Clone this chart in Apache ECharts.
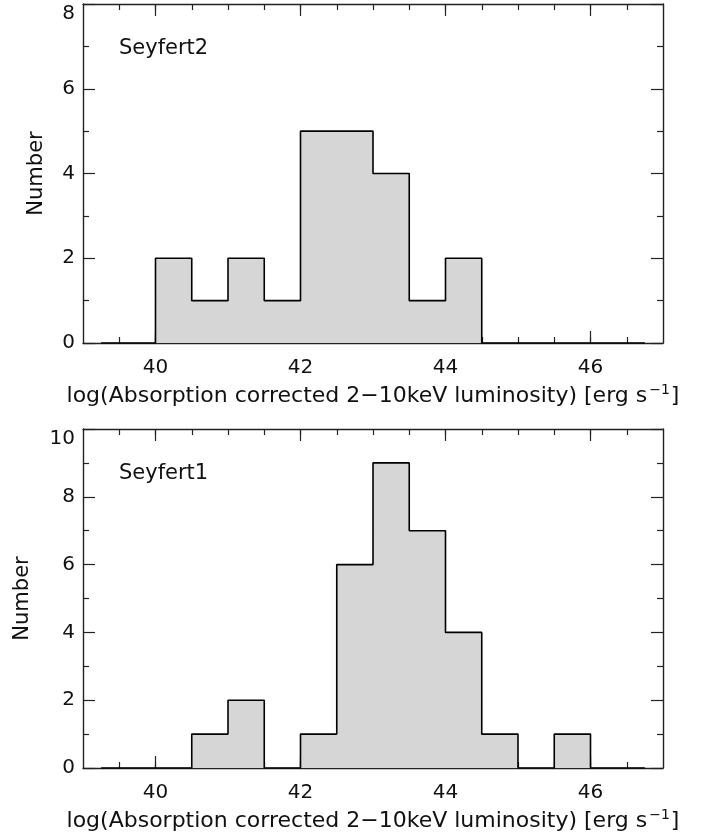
<!DOCTYPE html>
<html>
<head>
<meta charset="utf-8">
<script src="https://cdn.jsdelivr.net/npm/echarts@6/dist/echarts.min.js"></script>
<style>
html,body{margin:0;padding:0;background:#fff;}
#c{width:712px;height:838px;}
</style>
</head>
<body>
<div id="c"></div>
<script>
// Bin centres (log L, bin width 0.5)
const binCenters = [39.25, 39.75, 40.25, 40.75, 41.25, 41.75, 42.25, 42.75, 43.25, 43.75, 44.25, 44.75, 45.25, 45.75, 46.25, 46.75];
// Counts per bin
const seyfert2Counts = [0, 0, 2, 1, 2, 1, 5, 5, 4, 1, 2, 0, 0, 0, 0, 0];
const seyfert1Counts = [0, 0, 0, 1, 2, 0, 1, 6, 9, 7, 4, 1, 0, 1, 0, 0];
// Axis ticks / labels
const xMajorTicks = [40, 42, 44, 46];
const xMinorTicks = [39.5, 40, 40.5, 41, 41.5, 42, 42.5, 43, 43.5, 44, 44.5, 45, 45.5, 46, 46.5];
const xRange = [39, 47];
const yMaxTop = 8, yMaxBottom = 10;
const panelLabels = ['Seyfert2', 'Seyfert1'];
const yTitle = 'Number';

const FONT = 'DejaVu Sans';
const FS = 20;
const INK = '#111';
const AXC = '#222';

const xName = '{a|log(Absorption corrected 2\u221210keV luminosity) [erg s}{s|\u22121}{a|]}';
const xNameRich = {
  a: {fontFamily: FONT, fontSize: 22, color: INK},
  s: {fontFamily: FONT, fontSize: 14, color: INK, padding: [0, 1, 12, 2]}
};

function xAxes(grid, position, major, withLabels) {
  const base = {
    type: 'value', gridIndex: grid, position: position,
    min: xRange[0], max: xRange[1],
    splitLine: {show: false},
    axisLine: {show: major, onZero: false, lineStyle: {color: AXC, width: 1.4}},
    axisTick: {show: true, inside: true,
      customValues: major ? xMajorTicks : xMinorTicks,
      length: major ? 12 : 6, lineStyle: {color: AXC, width: 1.2}},
    axisLabel: {show: !!withLabels, customValues: xMajorTicks, margin: 15,
      fontFamily: FONT, fontSize: FS, color: INK}
  };
  if (withLabels) {
    base.name = xName;
    base.nameLocation = 'middle';
    base.nameGap = 40;
    base.nameTextStyle = {rich: xNameRich};
  }
  return base;
}

function yAxis(grid, position, max, withLabels, nameGap) {
  const ax = {
    type: 'value', gridIndex: grid, position: position,
    min: 0, max: max, interval: 2,
    splitLine: {show: false},
    axisLine: {show: true, onZero: false, lineStyle: {color: AXC, width: 1.4}},
    axisTick: {show: true, inside: true, length: 12, lineStyle: {color: AXC, width: 1.2}},
    minorTick: {show: true, splitNumber: 2, length: 6, lineStyle: {color: AXC, width: 1.2}},
    axisLabel: {show: withLabels, margin: 8, fontFamily: FONT, fontSize: FS, color: INK,
      verticalAlignMaxLabel: 'top'}
  };
  if (withLabels) {
    ax.name = yTitle;
    ax.nameLocation = 'middle';
    ax.nameGap = nameGap;
    ax.nameTextStyle = {fontFamily: FONT, fontSize: 21, color: INK};
  }
  return ax;
}

function histSeries(counts, xi, yi) {
  return {
    type: 'line', step: 'middle', xAxisIndex: xi, yAxisIndex: yi,
    data: binCenters.map((c, i) => [c, counts[i]]),
    symbol: 'none', silent: true,
    lineStyle: {color: '#000', width: 1.6},
    areaStyle: {color: '#d6d6d6', opacity: 1}
  };
}

const chart = echarts.init(document.getElementById('c'), null, {renderer: 'canvas'});
chart.setOption({
  animation: false,
  backgroundColor: '#fff',
  title: [
    {text: panelLabels[0], left: 119, top: 38, padding: 0,
      textStyle: {fontFamily: FONT, fontSize: 21, fontWeight: 'normal', color: INK}},
    {text: panelLabels[1], left: 119, top: 463, padding: 0,
      textStyle: {fontFamily: FONT, fontSize: 21, fontWeight: 'normal', color: INK}}
  ],
  grid: [
    {left: 83, top: 4, width: 580, height: 339, containLabel: false, outerBoundsMode: 'none'},
    {left: 83, top: 429, width: 580, height: 339, containLabel: false, outerBoundsMode: 'none'}
  ],
  xAxis: [
    xAxes(0, 'bottom', true, true),
    xAxes(0, 'bottom', false, false),
    xAxes(0, 'top', true, false),
    xAxes(0, 'top', false, false),
    xAxes(1, 'bottom', true, true),
    xAxes(1, 'bottom', false, false),
    xAxes(1, 'top', true, false),
    xAxes(1, 'top', false, false)
  ],
  yAxis: [
    yAxis(0, 'left', yMaxTop, true, 36),
    yAxis(0, 'right', yMaxTop, false),
    yAxis(1, 'left', yMaxBottom, true, 50),
    yAxis(1, 'right', yMaxBottom, false)
  ],
  series: [
    histSeries(seyfert2Counts, 0, 0),
    histSeries(seyfert1Counts, 4, 2)
  ]
});
</script>
</body>
</html>
